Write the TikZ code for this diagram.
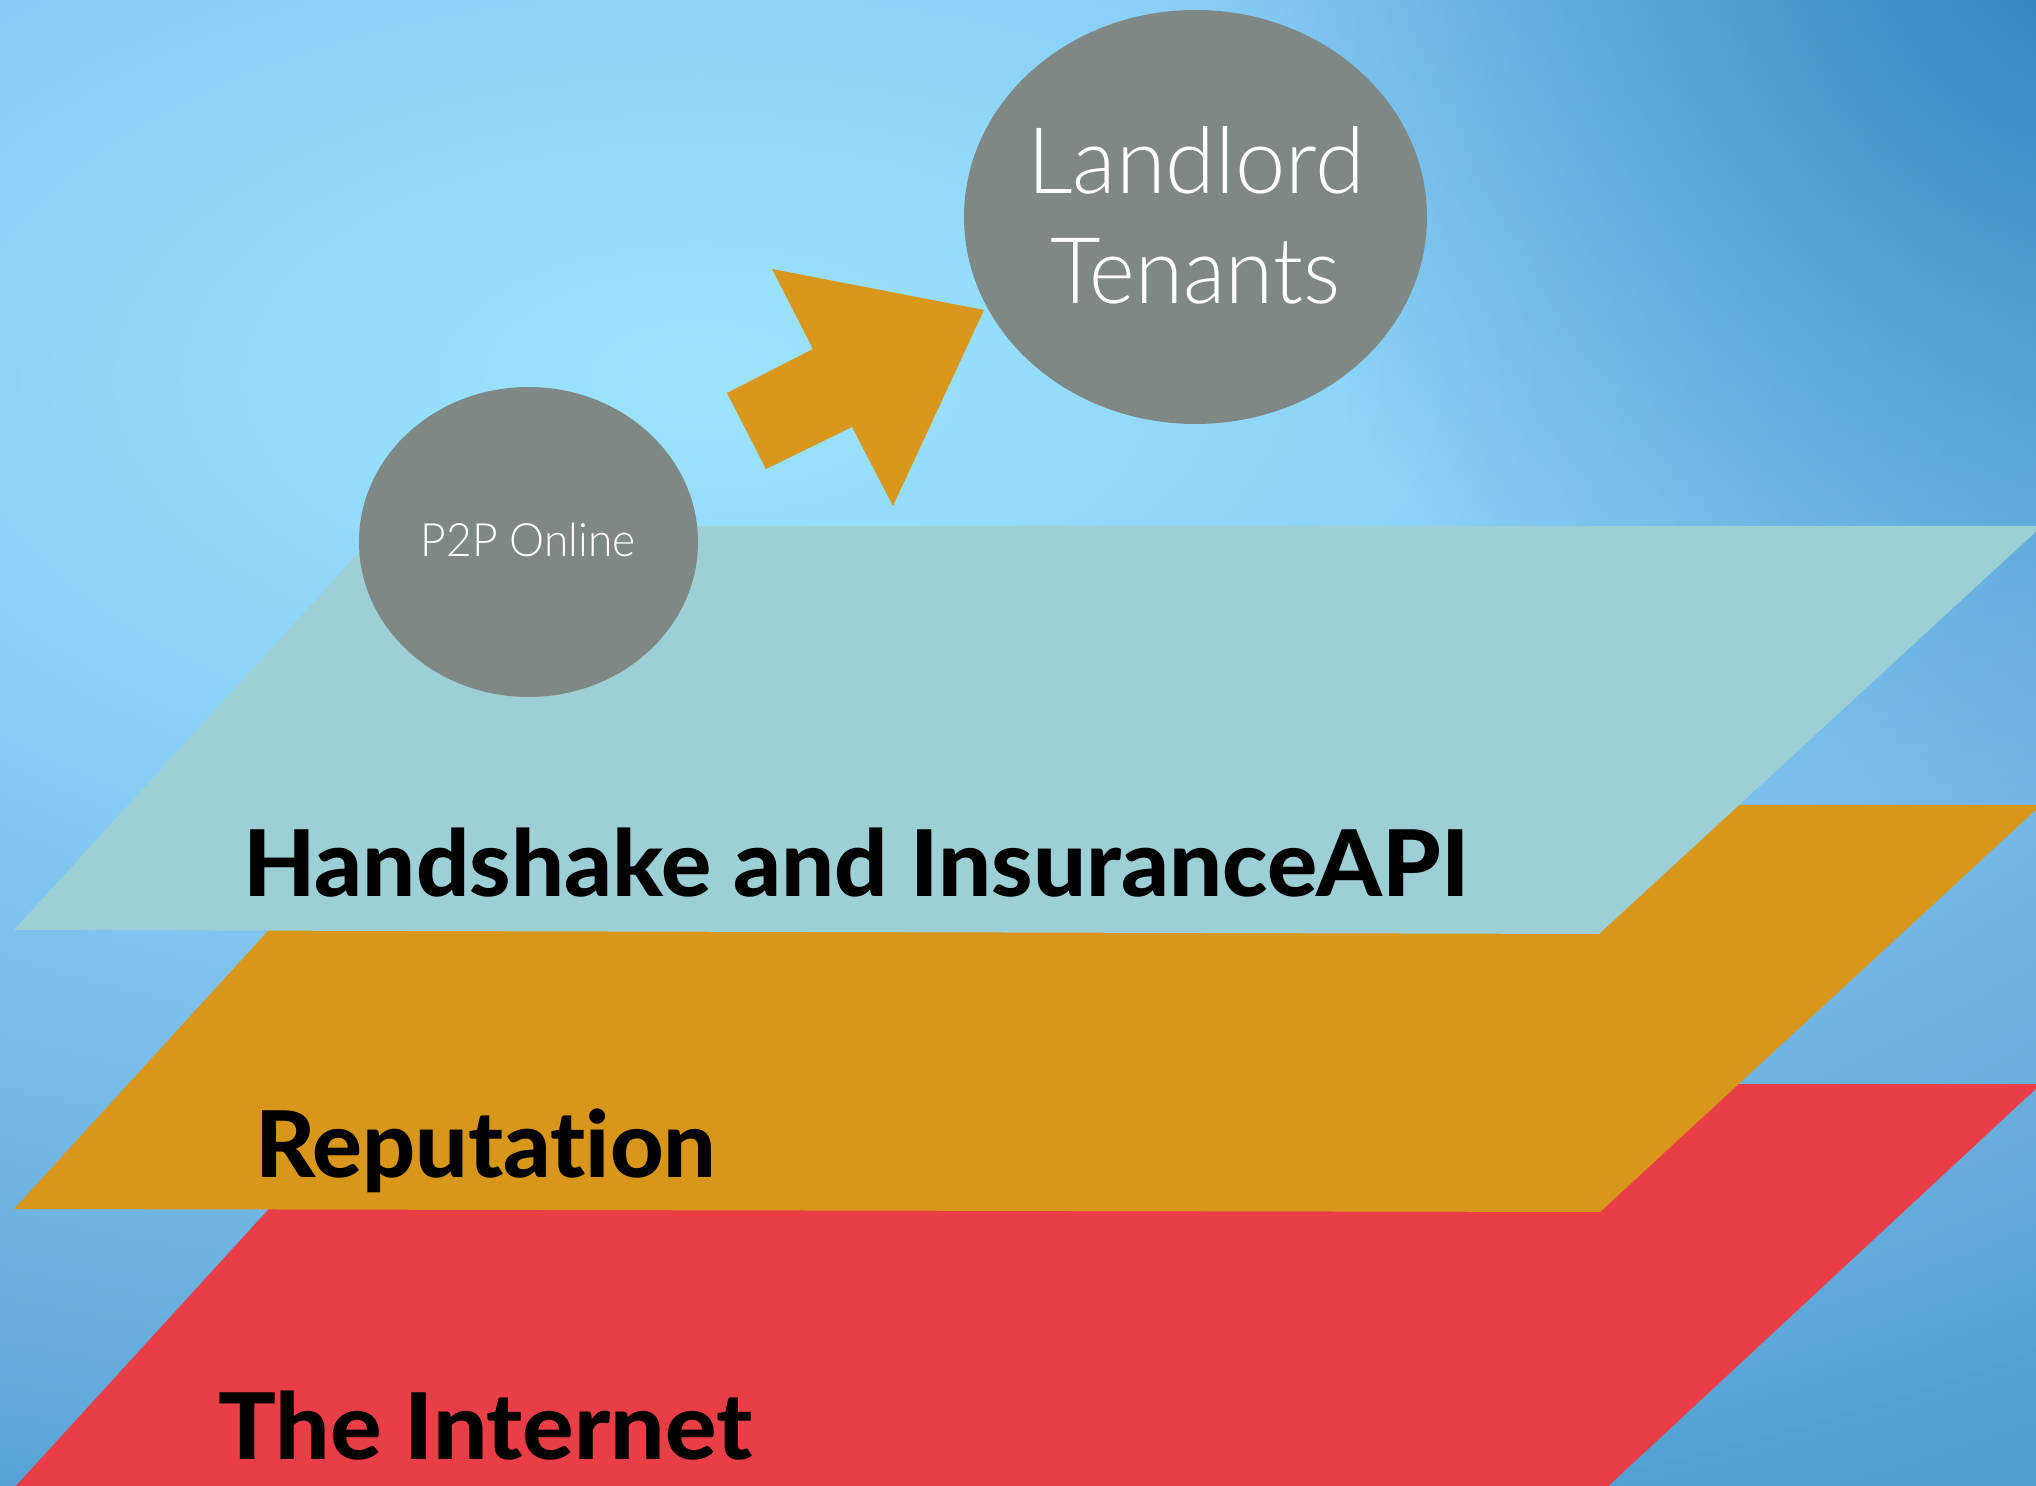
\documentclass[tikz,border=0pt]{standalone}
\usepackage{fontspec}
\usepackage{graphicx}
\usetikzlibrary{shapes.geometric,fadings}
\setmainfont{Lato}[Ligatures=NoCommon]
\IfFontExistsTF{Lato Light}{\newfontfamily\lightfont{Lato Light}[Ligatures=NoCommon]}{\newfontfamily\lightfont{Lato}[Ligatures=NoCommon]}
\IfFontExistsTF{Lato Heavy}{\newfontfamily\heavyfont{Lato Heavy}[Ligatures=NoCommon]}{%
  \IfFontExistsTF{Lato Black}{\newfontfamily\heavyfont{Lato Black}[Ligatures=NoCommon]}{\newfontfamily\heavyfont{Lato}[Ligatures=NoCommon,UprightFont=*-Bold]}}
\definecolor{s0}{HTML}{4E9DD1}
\definecolor{s1}{HTML}{52A0D3}
\definecolor{s2}{HTML}{62AADB}
\definecolor{s3}{HTML}{6BB1E0}
\definecolor{s4}{HTML}{76BAE8}
\definecolor{s5}{HTML}{7EC3EF}
\definecolor{s6}{HTML}{86CBF5}
\definecolor{s7}{HTML}{8ED5F9}
\definecolor{s8}{HTML}{97DFFD}
\definecolor{s9}{HTML}{9DE4FE}
\definecolor{topdark}{HTML}{2A80BD}
\definecolor{tealL}{HTML}{9DCFD6}
\definecolor{orangeL}{HTML}{D8971A}
\definecolor{redL}{HTML}{EA3E46}
\definecolor{bubbleG}{HTML}{808885}
\tikzfading[name=trfade, inner color=transparent!5, outer color=transparent!100]
\begin{document}
\begin{tikzpicture}[x=0.5pt,y=-0.5pt,
  bubble/.style={ellipse, fill=bubbleG, draw=none, inner sep=0pt},
  lighttext/.style={text=white, inner sep=0pt, font=\lightfont\fontsize{46}{55}\selectfont},
  smalltext/.style={text=white, inner sep=0pt, font=\lightfont\fontsize{23}{28}\selectfont},
  layertext/.style={text=black, inner sep=0pt, anchor=base west, font=\heavyfont\fontsize{46}{55}\selectfont}]
\useasboundingbox (0,0) rectangle (2036,1486);
\clip (0,0) rectangle (2036,1486);
% background: elliptical gradient built from concentric ellipses
\fill[s0] (0,0) rectangle (2036,1486);
\foreach \ta/\tb/\ca/\cb in {1.0/0.9/s0/s1, 0.9/0.8/s1/s2, 0.8/0.7/s2/s3, 0.7/0.58/s3/s4, 0.58/0.48/s4/s5, 0.48/0.39/s5/s6, 0.39/0.25/s6/s7, 0.25/0.1/s7/s8, 0.1/0.0/s8/s9}{
  \foreach \k in {0,...,11}{
    \pgfmathsetmacro\tt{\ta-(\ta-\tb)*\k/12}
    \pgfmathtruncatemacro\pp{100*\k/12}
    \fill[\cb!\pp!\ca] (700,380) ellipse [x radius=\tt*1300pt, y radius=\tt*675pt];
  }
}
\fill[topdark, path fading=trfade] (2100,-80) circle [radius=450pt];
% layers
\fill[redL] (14,1488) -- (383,1084) -- (2041,1084) -- (1604,1490) -- cycle;
\fill[orangeL] (14,1209) -- (383,805) -- (2041,805) -- (1600,1212) -- cycle;
\fill[tealL] (14,930) -- (383,526) -- (2042,526) -- (1599,934) -- cycle;
% arrow
\fill[orangeL] (772,269) -- (984,310) -- (893,506) -- (852,427) -- (766,469) -- (727,393) -- (813,349) -- cycle;
% bubbles
\node[bubble, minimum width=231.5pt, minimum height=207pt] (landlord) at (1195.5,217) {};
\node[bubble, minimum width=169.5pt, minimum height=155pt] (p2p) at (528.5,542) {};
% texts
\node[lighttext, anchor=base] (tl1) at (1196,194) {\resizebox{169pt}{\height}{Landlord}};
\node[lighttext, anchor=base] (tl2) at (1195,304) {\resizebox{145pt}{\height}{Tenants}};
\node[smalltext, anchor=base] (tp) at (528.5,557) {\resizebox{107.5pt}{\height}{P2P Online}};
\node[layertext] (th) at (243,896) {\resizebox{613pt}{\height}{Handshake and InsuranceAPI}};
\node[layertext] (tr) at (255,1177) {\resizebox{230.5pt}{\height}{Reputation}};
\node[layertext] (ti) at (218,1459) {\resizebox{267pt}{\height}{The Internet}};
\end{tikzpicture}
\end{document}
